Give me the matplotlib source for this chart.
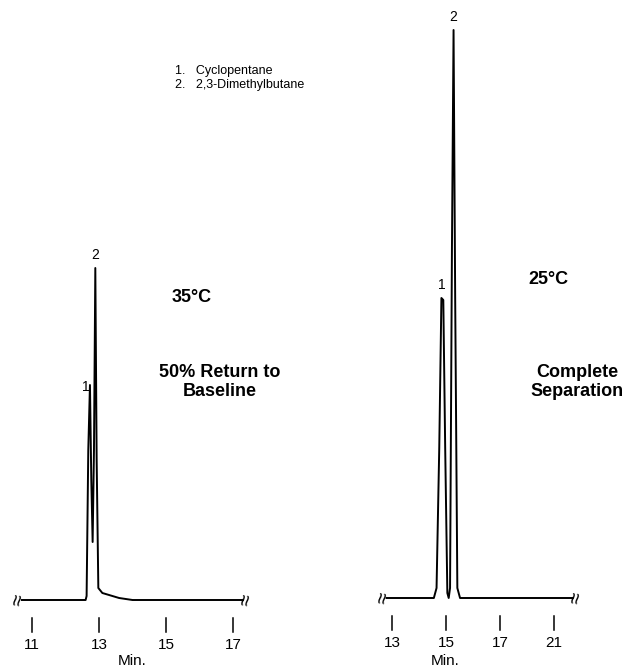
import matplotlib
matplotlib.use("Agg")
import matplotlib.pyplot as plt

plt.rcParams["font.family"] = ["Liberation Sans", "DejaVu Sans"]

# trace vertices: (min, height above baseline in px units)
left_t = [10.7, 12.6, 12.63, 12.68, 12.73, 12.77, 12.81, 12.85, 12.89, 12.93, 12.98, 13.1, 13.3, 13.6, 14.0, 17.3]
left_h = [0, 0, 4, 150, 215, 120, 58, 150, 332, 140, 12, 7, 5, 2, 0, 0]
right_t = [12.8, 14.55, 14.65, 14.75, 14.83, 14.9, 14.97, 15.05, 15.1, 15.15, 15.22, 15.28, 15.34, 15.42, 15.52, 19.7]
right_h = [0, 0, 10, 150, 300, 298, 150, 5, 0, 10, 350, 568, 300, 10, 0, 0]
left_ticks = [11, 13, 15, 17]
left_ticklabels = ["11", "13", "15", "17"]
right_ticks = [13, 15, 17, 19]
right_ticklabels = ["13", "15", "17", "21"]

W, H = 631, 670
fig = plt.figure(figsize=(W / 100, H / 100), dpi=100)


def panel(x0px, t0, scale, base_px, t, h, ticks, labels, peaks, lab_dx):
    ax = fig.add_axes([0, 0, 1, 1])
    ax.set_xlim(t0 - x0px / scale, t0 + (W - x0px) / scale)
    ax.set_ylim(-(H - base_px), base_px)
    ax.axis("off")
    ax.plot(t, h, color="black", lw=1.4)
    for tk, lb in zip(ticks, labels):
        ax.plot([tk, tk], [-18, -32], color="black", lw=1.1)
        ax.text(tk, -38, lb, ha="center", va="top", fontsize=11)
    for (pt, ph, txt) in peaks:
        ax.text(pt, ph + 6, txt, ha="center", va="bottom", fontsize=10)
    ax.text(t[0] - lab_dx, 0, "≈", rotation=80, ha="center", va="center", fontsize=15)
    ax.text(t[-1] + lab_dx, 0, "≈", rotation=80, ha="center", va="center", fontsize=15)
    return ax


axl = panel(32, 11, 33.5, 600, left_t, left_h, left_ticks, left_ticklabels,
            [(12.62, 200, "1"), (12.89, 332, "2")], 0.1)
axr = panel(392, 13, 27, 598, right_t, right_h, right_ticks, right_ticklabels,
            [(14.86, 300, "1"), (15.28, 568, "2")], 0.12)

fig.text(132 / W, 1 - 661 / H, "Min.", ha="center", va="center", fontsize=11)
fig.text(445 / W, 1 - 661 / H, "Min.", ha="center", va="center", fontsize=11)
fig.text(175 / W, 1 - 71 / H, "1.   Cyclopentane", fontsize=9, va="center")
fig.text(175 / W, 1 - 85 / H, "2.   2,3-Dimethylbutane", fontsize=9, va="center")
fig.text(192 / W, 1 - 298 / H, "35°C", fontsize=13, weight="bold", ha="center", va="center")
fig.text(220 / W, 1 - 382 / H, "50% Return to\nBaseline", fontsize=13, weight="bold",
         ha="center", va="center", linespacing=1.15)
fig.text(548 / W, 1 - 280 / H, "25°C", fontsize=13, weight="bold", ha="center", va="center")
fig.text(577 / W, 1 - 382 / H, "Complete\nSeparation", fontsize=13, weight="bold",
         ha="center", va="center", linespacing=1.15)

fig.savefig("out.png", dpi=100)
